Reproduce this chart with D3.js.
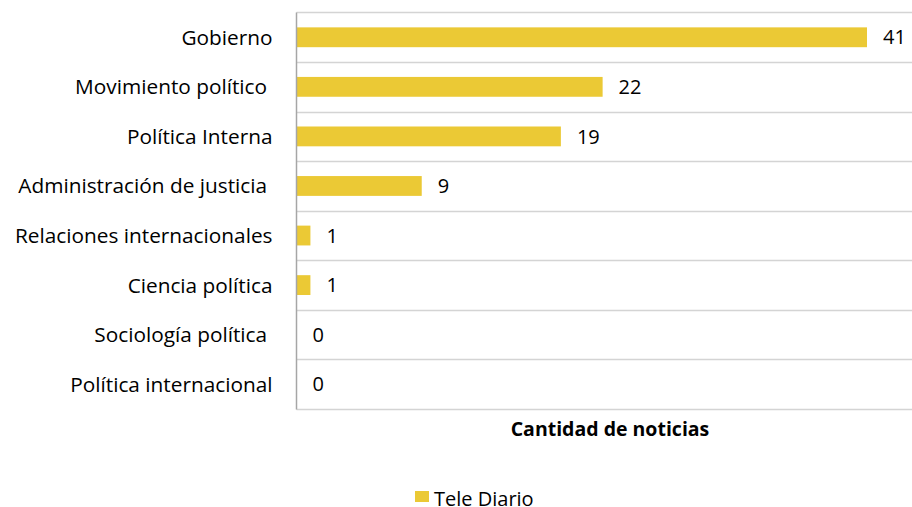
<!DOCTYPE html>
<html>
<head>
<meta charset="utf-8">
<script src="https://d3js.org/d3.v7.min.js"></script>
<style>
  body { margin: 0; background: #fff; }
  svg { display: block; font-family: 'Open Sans', sans-serif; }
  text { white-space: pre; }
</style>
</head>
<body>
<div id="chart"></div>
<script>
var categories = ['Gobierno', 'Movimiento político ', 'Política Interna', 'Administración de justicia ',
    'Relaciones internacionales', 'Ciencia política', 'Sociología política ', 'Política internacional'];
var teleDiario = [41, 22, 19, 9, 1, 1, 0, 0];
var seriesName = 'Tele Diario';
var axisTitle = 'Cantidad de noticias';

var width = 912, height = 507;
var plotLeft = 296.5, plotTop = 12.5, plotBottom = 409;
var fontSize = 20;

var svg = d3.select('#chart')
    .append('svg')
    .attr('width', width)
    .attr('height', height);

var x = d3.scaleLinear()
    .domain([0, 41])
    .range([plotLeft, 867]);

var y = d3.scaleBand()
    .domain(categories)
    .range([plotTop, plotBottom])
    .paddingInner(0.6)
    .paddingOuter(0.3);

// gridlines at band edges
var edges = categories.map(function(c) { return y(c) - y.step() * y.paddingInner() / 2; });
edges.push(plotBottom);

svg.append('g')
    .selectAll('line')
    .data(edges)
    .enter()
    .append('line')
    .attr('x1', plotLeft)
    .attr('x2', width)
    .attr('y1', function(d) { return Math.round(d) + 0.5; })
    .attr('y2', function(d) { return Math.round(d) + 0.5; })
    .attr('stroke', '#d4d4d4')
    .attr('stroke-width', 1.5);

svg.append('g')
    .selectAll('rect')
    .data(teleDiario)
    .enter()
    .append('rect')
    .attr('x', x(0))
    .attr('y', function(d, i) { return y(categories[i]); })
    .attr('width', function(d) { return x(d) - x(0); })
    .attr('height', y.bandwidth())
    .attr('fill', '#ebc935');

// y axis line
svg.append('line')
    .attr('x1', plotLeft)
    .attr('x2', plotLeft)
    .attr('y1', plotTop)
    .attr('y2', Math.round(plotBottom) + 0.5)
    .attr('stroke', '#a6a6a6')
    .attr('stroke-width', 1.5);

svg.append('g')
    .selectAll('text')
    .data(categories)
    .enter()
    .append('text')
    .attr('x', plotLeft - 24)
    .attr('y', function(d) { return y(d) + y.bandwidth() / 2; })
    .attr('dy', '0.36em')
    .attr('text-anchor', 'end')
    .attr('font-size', 20.8)
    .attr('fill', '#000')
    .text(function(d) { return d; });

svg.append('g')
    .selectAll('text')
    .data(teleDiario)
    .enter()
    .append('text')
    .attr('x', function(d) { return x(d) + 16; })
    .attr('y', function(d, i) { return y(categories[i]) + y.bandwidth() / 2; })
    .attr('dy', '0.36em')
    .attr('font-size', fontSize)
    .attr('fill', '#000')
    .text(function(d) { return d; });

svg.append('text')
    .attr('x', 610)
    .attr('y', 436)
    .attr('text-anchor', 'middle')
    .attr('font-size', 19.5)
    .attr('font-weight', 'bold')
    .text(axisTitle);

// legend
var legend = svg.append('g').attr('transform', 'translate(415,491)');
legend.append('rect')
    .attr('width', 14)
    .attr('height', 11)
    .attr('fill', '#ebc935');
legend.append('text')
    .attr('x', 19)
    .attr('y', 15)
    .attr('font-size', fontSize)
    .text(seriesName);
</script>
</body>
</html>
